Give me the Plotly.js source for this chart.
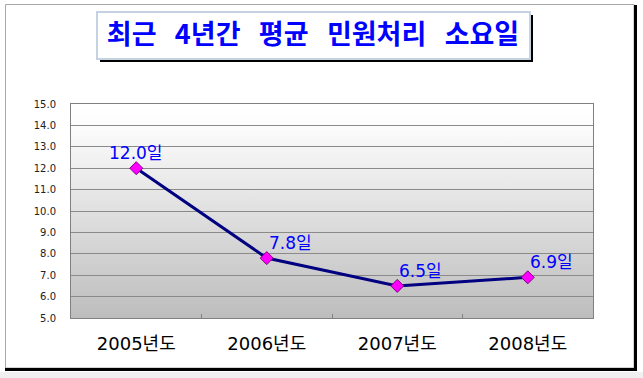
<!DOCTYPE html>
<html>
<head>
<meta charset="utf-8">
<script src="https://cdn.plot.ly/plotly-3.0.1.min.js"></script>
<style>
  html, body { margin: 0; padding: 0; background: #ffffff; }
  #chart { width: 643px; height: 378px; }
</style>
</head>
<body>
<div id="chart"></div>
<script>
// ---- data ----
const categories = ['2005년도', '2006년도', '2007년도', '2008년도'];
const values = [12.0, 7.8, 6.5, 6.9];
const valueLabels = ['12.0일', '7.8일', '6.5일', '6.9일'];
const labelAnchors = ['center', 'left', 'left', 'left'];
const yTickValues = [5, 6, 7, 8, 9, 10, 11, 12, 13, 14, 15];
const chartTitle = '최근\u00a0\u00a0\u00a04년간\u00a0\u00a0\u00a0평균\u00a0\u00a0\u00a0민원처리\u00a0\u00a0\u00a0소요일';

// ---- geometry helpers (pixel -> paper) ----
const W = 643, H = 378;
const PL = 71, PR = 593, PT = 104, PB = 318;
const px = x => (x - PL) / (PR - PL);
const py = y => (PB - y) / (PB - PT);

const gradSvg = '<svg xmlns="http://www.w3.org/2000/svg" width="100" height="100" preserveAspectRatio="none">' +
  '<defs><linearGradient id="g" x1="0" y1="0" x2="0" y2="1">' +
  '<stop offset="0" stop-color="#ffffff"/><stop offset="0.12" stop-color="#fbfbfb"/>' +
  '<stop offset="1" stop-color="#bdbdbd"/></linearGradient></defs>' +
  '<rect width="100" height="100" fill="url(#g)"/></svg>';
const gradUri = 'data:image/svg+xml;base64,' + btoa(gradSvg);

const trace = {
  type: 'scatter',
  mode: 'lines+markers',
  x: categories,
  y: values,
  line: { color: '#000080', width: 3 },
  marker: { symbol: 'diamond', size: 10, color: '#ff00ff', line: { color: '#800080', width: 1 } },
  cliponaxis: false,
  hoverinfo: 'skip'
};

const labelAnnotations = categories.map((c, i) => ({
  x: c, y: values[i], xref: 'x', yref: 'y',
  text: valueLabels[i], showarrow: false,
  xanchor: labelAnchors[i], yanchor: 'middle',
  xshift: 0, yshift: 15,
  font: { family: 'DejaVu Sans, Noto Sans CJK KR, sans-serif', size: 17, color: '#0000ff' }
}));

const layout = {
  width: W, height: H,
  margin: { l: PL, r: W - PR, t: PT, b: H - PB, pad: 0 },
  paper_bgcolor: '#ffffff',
  plot_bgcolor: 'rgba(0,0,0,0)',
  showlegend: false,
  title: {
    text: chartTitle,
    x: 313 / W, xref: 'container', xanchor: 'center',
    y: 1 - 35 / H, yref: 'container', yanchor: 'middle',
    font: { family: 'Noto Sans CJK KR, sans-serif', size: 27, color: '#0000ff', weight: 'bold' }
  },
  xaxis: {
    type: 'category',
    range: [-0.5, 3.5],
    tickson: 'boundaries',
    ticks: 'inside', ticklen: 4, tickcolor: '#808080', tickwidth: 1,
    showgrid: false,
    showline: true, linecolor: '#808080', linewidth: 1, mirror: true,
    tickfont: { family: 'DejaVu Sans, Noto Sans CJK KR, sans-serif', size: 18, color: '#000000' },
    ticklabelstandoff: 9,
    fixedrange: true
  },
  yaxis: {
    range: [5, 15],
    tickvals: yTickValues,
    tickformat: '.1f',
    showgrid: true, gridcolor: '#8a8a8a', gridwidth: 1,
    zeroline: false,
    showline: true, linecolor: '#808080', linewidth: 1, mirror: true,
    ticks: '',
    tickfont: { family: 'DejaVu Sans, sans-serif', size: 10, color: '#222222' },
    ticklabelstandoff: 12,
    fixedrange: true
  },
  annotations: labelAnnotations,
  images: [{
    source: gradUri, xref: 'paper', yref: 'paper',
    x: 0, y: 1, sizex: 1, sizey: 1, sizing: 'stretch',
    xanchor: 'left', yanchor: 'top', layer: 'below'
  }],
  shapes: [
    // bottom light gray strip
    { type: 'rect', xref: 'paper', yref: 'paper', layer: 'below',
      x0: px(0), x1: px(W), y0: py(372), y1: py(H), fillcolor: '#f0f0f0', line: { width: 0 } },
    // outer frame thin gray
    { type: 'rect', xref: 'paper', yref: 'paper', layer: 'below',
      x0: px(5.5), x1: px(634), y0: py(4.5), y1: py(368), line: { color: '#a8a8a8', width: 1 } },
    // right black border
    { type: 'line', xref: 'paper', yref: 'paper', layer: 'below',
      x0: px(635.5), x1: px(635.5), y0: py(5), y1: py(371), line: { color: '#000000', width: 3 } },
    // bottom black border
    { type: 'line', xref: 'paper', yref: 'paper', layer: 'below',
      x0: px(5), x1: px(637), y0: py(369.5), y1: py(369.5), line: { color: '#000000', width: 3 } },
    // title box shadow
    { type: 'rect', xref: 'paper', yref: 'paper', layer: 'below',
      x0: px(100), x1: px(533), y0: py(15), y1: py(62), fillcolor: '#000000', line: { width: 0 } },
    // title box
    { type: 'rect', xref: 'paper', yref: 'paper', layer: 'below',
      x0: px(97), x1: px(530), y0: py(12), y1: py(59), fillcolor: '#ffffff',
      line: { color: '#c4d2e2', width: 2 } }
  ]
};

Plotly.newPlot('chart', [trace], layout, { displayModeBar: false, staticPlot: true });
</script>
</body>
</html>
